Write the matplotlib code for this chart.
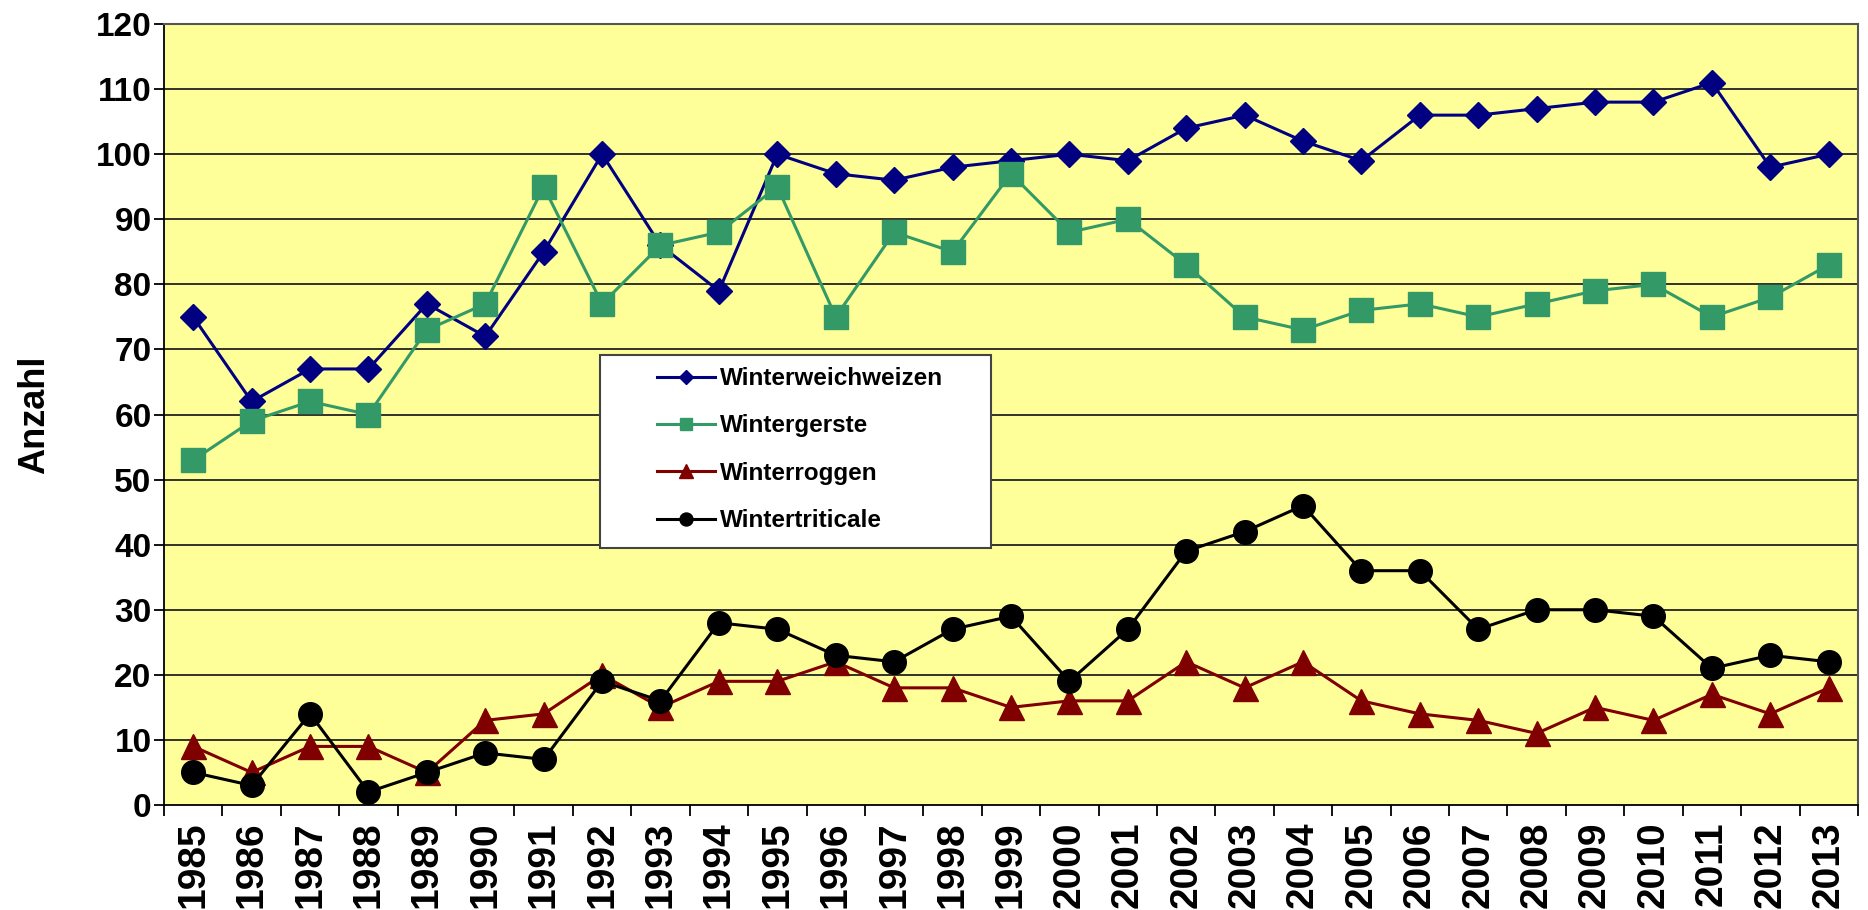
import matplotlib
matplotlib.use('Agg')
import matplotlib.pyplot as plt
from matplotlib.patches import Rectangle

# data
years = [str(y) for y in range(1985, 2014)]
weichweizen = [75, 62, 67, 67, 77, 72, 85, 100, 86, 79, 100, 97, 96, 98, 99,
               100, 99, 104, 106, 102, 99, 106, 106, 107, 108, 108, 111, 98, 100]
gerste = [53, 59, 62, 60, 73, 77, 95, 77, 86, 88, 95, 75, 88, 85, 97,
          88, 90, 83, 75, 73, 76, 77, 75, 77, 79, 80, 75, 78, 83]
roggen = [9, 5, 9, 9, 5, 13, 14, 20, 15, 19, 19, 22, 18, 18, 15,
          16, 16, 22, 18, 22, 16, 14, 13, 11, 15, 13, 17, 14, 18]
triticale = [5, 3, 14, 2, 5, 8, 7, 19, 16, 28, 27, 23, 22, 27, 29,
             19, 27, 39, 42, 46, 36, 36, 27, 30, 30, 29, 21, 23, 22]
series_names = ['Winterweichweizen', 'Wintergerste', 'Winterroggen', 'Wintertriticale']
y_ticks = list(range(0, 121, 10))

plt.rcParams['font.family'] = ['Liberation Sans', 'DejaVu Sans']

fig = plt.figure(figsize=(18.68, 9.10), dpi=100)
ax = fig.add_axes([0.0878, 0.1154, 0.9068, 0.8582])
ax.set_facecolor('#FFFF99')

x = list(range(len(years)))

# gridlines
for v in y_ticks[1:]:
    ax.axhline(v, color='#222222', linewidth=1.3, zorder=1)

ax.plot(x, weichweizen, color='#000080', marker='D', markersize=13, linewidth=2.2,
        label=series_names[0], zorder=3)
ax.plot(x, gerste, color='#339966', marker='s', markersize=17, linewidth=2.2,
        label=series_names[1], zorder=3)
ax.plot(x, roggen, color='#800000', marker='^', markersize=18, linewidth=2.2,
        label=series_names[2], zorder=3)
ax.plot(x, triticale, color='black', marker='o', markersize=17, linewidth=2.2,
        label=series_names[3], zorder=3)

ax.set_xlim(-0.5, len(years) - 0.5)
ax.set_ylim(0, 120)

# x axis: labels centred, tick marks at category boundaries
ax.set_xticks(x)
ax.set_xticklabels(years, rotation=90, fontsize=28, fontweight='bold')
ax.tick_params(axis='x', which='major', length=0, pad=12)
ax.set_xticks([i - 0.5 for i in range(len(years) + 1)], minor=True)
ax.tick_params(axis='x', which='minor', length=8, width=1.3, direction='out')

ax.set_yticks(y_ticks)
ax.set_yticklabels([str(v) for v in y_ticks], fontsize=24, fontweight='bold')
ax.tick_params(axis='y', length=7, width=1.3, direction='out', pad=2)

ax.set_ylabel('Anzahl', fontsize=26, fontweight='bold')
ax.yaxis.set_label_coords(-0.066, 0.5)

for side in ['left', 'bottom']:
    ax.spines[side].set_color('black')
    ax.spines[side].set_linewidth(1.3)
for side in ['top', 'right']:
    ax.spines[side].set_color('#555555')
    ax.spines[side].set_linewidth(1.5)

# legend box
box = Rectangle((0.2574, 0.329), 0.2306, 0.247, transform=ax.transAxes,
                facecolor='white', edgecolor='#444444', linewidth=1.5, zorder=4)
ax.add_patch(box)
leg = ax.legend(loc='center left', bbox_to_anchor=(0.291, 0.455), frameon=False,
                borderpad=0, borderaxespad=0, handlelength=2.4, handletextpad=0.2,
                labelspacing=1.0, markerscale=0.55,
                prop={'weight': 'bold', 'size': 17.5})
leg.set_zorder(5)

fig.savefig('out.png', dpi=100)
